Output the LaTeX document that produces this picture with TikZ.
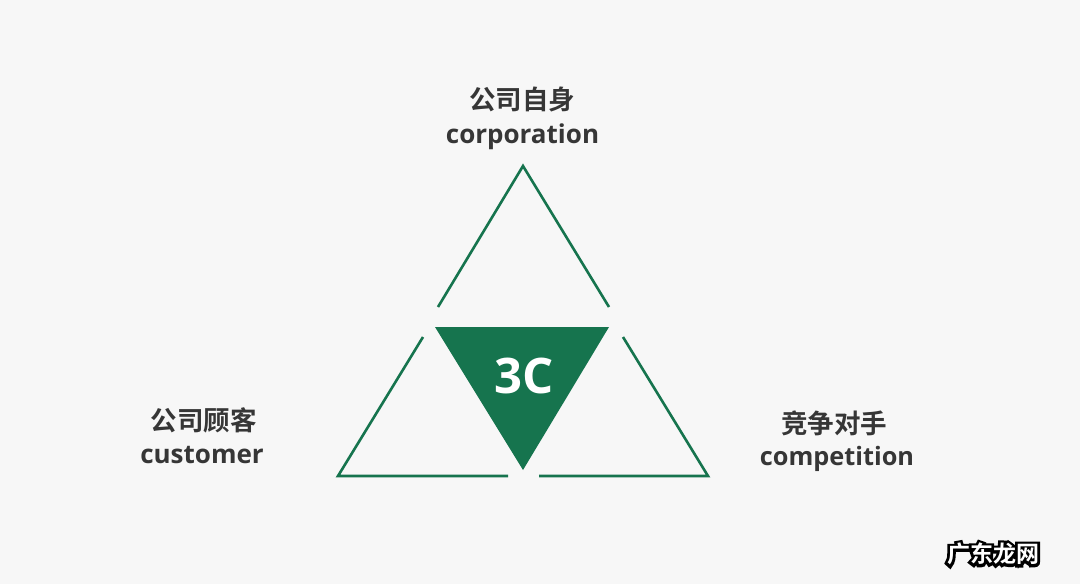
\documentclass[tikz,border=0pt]{standalone}
\usepackage{fontspec}
\setmainfont{Open Sans}[BoldFont={Open Sans Bold}]
\newfontfamily\cjk{Noto Sans CJK SC}[BoldFont={Noto Sans CJK SC Bold}]
\newfontfamily\wmout{Noto Sans CJK SC Bold}[FakeBold=24]
\newfontfamily\wmin{Noto Sans CJK SC Bold}
\definecolor{bg}{HTML}{F7F7F7}
\definecolor{tgreen}{HTML}{16744E}
\definecolor{txt}{HTML}{363636}
\tikzset{
  tri/.style={draw=tgreen, line width=2.6pt, line join=miter},
  zh/.style={font=\cjk\bfseries\fontsize{26.5}{30}\selectfont, text=txt, inner sep=0pt},
  en/.style={font=\bfseries\fontsize{26}{30}\selectfont, text=txt, inner sep=0pt, anchor=base},
}
\begin{document}
\begin{tikzpicture}[x=1pt,y=-1pt]
\fill[bg] (0,0) rectangle (1080,584);
\useasboundingbox (0,0) rectangle (1080,584);
% coordinates
\coordinate (tA) at (523,166);
\coordinate (tL) at (438,307);
\coordinate (tR) at (609,307);
\coordinate (lT) at (423,337);
\coordinate (lB) at (338,476);
\coordinate (lE) at (508,476);
\coordinate (rT) at (623,337);
\coordinate (rB) at (708,476);
\coordinate (rE) at (539,476);
\coordinate (cL) at (435,327);
\coordinate (cR) at (609,327);
\coordinate (cB) at (523,470);
% triangles
\draw[tri] (tL) -- (tA) -- (tR);
\draw[tri] (lT) -- (lB) -- (lE);
\draw[tri] (rT) -- (rB) -- (rE);
\fill[tgreen] (cL) -- (cR) -- (cB) -- cycle;
\node[font=\bfseries\fontsize{49}{52}\selectfont, text=white, inner sep=0pt] (c3) at (524.5,376) {3C};
% labels
\node[zh] (topzh) at (522,99) {公司自身};
\node[en] (topen) at (522.5,143) {corporation};
\node[zh] (leftzh) at (203.5,420) {公司顾客};
\node[en] (leften) at (202,463) {customer};
\node[zh] (rightzh) at (834,423.5) {竞争对手};
\node[en, font=\bfseries\fontsize{25.3}{30}\selectfont] (righten) at (837,465) {competition};
% watermark
\node[font=\wmout\fontsize{23}{26}\selectfont, text=black, inner sep=0pt] (wmo) at (993,554) {广东龙网};
\node[font=\wmin\fontsize{23}{26}\selectfont, text=white, inner sep=0pt] (wm) at (wmo.center) {广东龙网};
\end{tikzpicture}
\end{document}
